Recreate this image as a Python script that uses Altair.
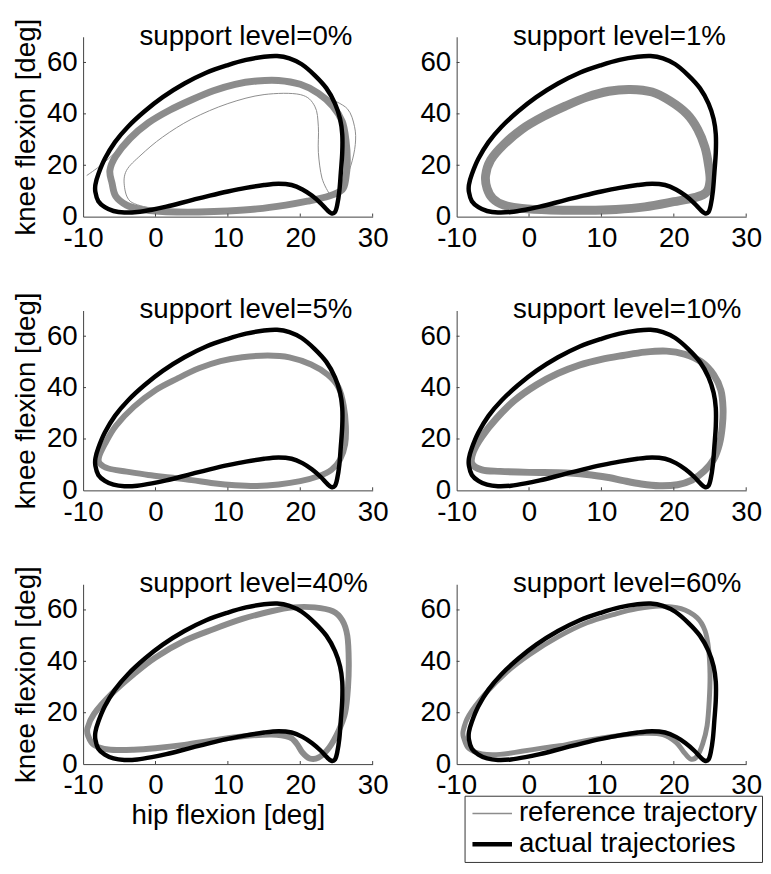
import altair as alt
import pandas as pd

# ---------------- data ----------------
PANEL_TITLES = ["support level=0%", "support level=1%", "support level=5%",
                "support level=10%", "support level=40%", "support level=60%"]
HIP_TICKS = [-10, 0, 10, 20, 30]
KNEE_TICKS = [0, 20, 40, 60]
SERIES = ["reference trajectory", "actual trajectories"]

# actual trajectory (same in every panel), closed loop
ACTUAL_HIP = [-8.3, -7.9, -7.0, -5.8, -4.3, -2.5, -0.5, 1.5, 3.5, 5.5, 7.5, 10.0, 12.5, 15.0,
              17.0, 18.8, 20.3, 21.6, 22.8, 23.7, 24.3, 24.8, 25.1, 25.4, 25.6, 25.8, 25.8,
              25.5, 24.8, 23.6, 22.0, 20.2, 18.5, 16.8, 15.0, 12.5, 10.0, 7.0, 4.0, 1.0,
              -1.5, -3.8, -5.6, -7.0, -7.9, -8.3]
ACTUAL_KNEE = [9.5, 6.0, 3.7, 2.2, 1.6, 1.8, 2.7, 3.9, 5.3, 6.8, 8.2, 9.8, 11.2, 12.3,
               12.8, 12.3, 10.6, 8.2, 5.3, 2.6, 1.3, 1.8, 4.5, 10.0, 17.0, 25.0, 32.0,
               38.0, 44.0, 50.0, 55.0, 59.3, 61.6, 62.5, 62.2, 61.0, 59.0, 56.0, 51.8, 46.5,
               41.0, 35.0, 29.0, 22.5, 16.5, 12.5]

# reference trajectories: centre of the grey band per panel (closed loops)
REF0_HIP = [-5.5, -4.0, -2.0, 0.0, 3.0, 6.0, 10.0, 14.0, 18.0, 21.0, 24.0, 25.8, 26.3, 26.5,
            26.3, 25.8, 24.5, 22.5, 20.0, 17.0, 14.0, 11.0, 8.0, 5.0, 2.0, -1.0, -3.5, -5.5,
            -6.3, -6.0]
REF0_KNEE = [8.0, 4.5, 2.8, 2.2, 1.8, 1.8, 2.2, 3.0, 4.5, 6.0, 8.0, 10.5, 15.0, 22.0,
             30.0, 37.0, 43.0, 48.0, 51.5, 53.0, 52.8, 51.5, 49.0, 45.5, 41.5, 36.5, 30.5, 23.5,
             18.0, 13.0]
REF1_HIP = [-5.0, -3.5, -1.0, 3.0, 8.0, 12.0, 16.0, 20.0, 23.0, 24.5, 25.0, 24.8, 24.3, 23.3,
            21.8, 19.5, 17.0, 14.0, 11.0, 8.0, 5.0, 2.0, -1.0, -3.5, -5.3, -6.0, -5.8]
REF1_KNEE = [7.0, 4.5, 3.2, 2.6, 2.5, 2.8, 3.8, 5.8, 7.5, 9.5, 14.0, 20.0, 27.0, 34.0,
             40.0, 45.0, 48.5, 49.5, 48.8, 46.5, 43.0, 39.0, 34.0, 28.0, 22.0, 16.0, 11.0]
REF5_HIP = [-7.7, -6.5, -4.0, -1.0, 2.0, 5.0, 8.0, 11.0, 14.0, 17.0, 20.0, 22.5, 24.3, 25.5,
            26.2, 26.3, 26.0, 25.3, 23.8, 21.5, 18.5, 15.5, 12.0, 9.0, 6.0, 3.0, 0.0, -3.0,
            -5.5, -7.0, -7.8]
REF5_KNEE = [10.5, 8.5, 7.3, 6.0, 5.0, 4.0, 2.8, 2.0, 1.7, 2.3, 3.6, 5.5, 8.0, 12.0,
             18.0, 25.0, 33.0, 40.0, 45.0, 49.0, 51.8, 52.5, 51.8, 50.3, 47.5, 43.5, 39.0, 32.5,
             25.0, 18.0, 13.0]
REF10_HIP = [-7.9, -6.5, -4.0, 0.0, 4.0, 8.0, 11.0, 13.0, 15.5, 18.0, 20.5, 22.5, 24.2, 25.5,
             26.3, 26.7, 26.8, 26.5, 25.5, 23.8, 21.5, 19.0, 16.0, 13.0, 10.0, 7.0, 4.0, 1.0,
             -2.0, -4.5, -6.5, -7.7]
REF10_KNEE = [10.5, 8.0, 7.4, 7.0, 6.9, 6.2, 5.0, 3.8, 2.5, 1.8, 2.2, 4.0, 7.5, 12.0,
              18.0, 25.0, 32.0, 39.0, 45.0, 50.0, 53.0, 54.2, 53.8, 52.5, 51.0, 48.8, 45.5, 41.0,
              35.0, 28.0, 21.0, 15.0]
REF40_HIP = [-9.3, -8.5, -6.5, -3.0, 0.0, 4.0, 8.0, 12.0, 16.0, 18.5, 19.5, 20.3, 21.3, 22.5,
             24.0, 25.3, 26.2, 26.6, 26.7, 26.5, 25.8, 24.5, 22.0, 19.0, 16.0, 12.0, 8.0, 4.0,
             0.0, -3.0, -6.0, -8.5, -9.4]
REF40_KNEE = [11.0, 7.5, 5.7, 5.6, 6.2, 7.5, 9.2, 10.8, 11.5, 10.5, 8.0, 4.5, 2.2, 2.5,
              6.5, 13.0, 20.0, 30.0, 40.0, 50.0, 56.0, 59.5, 61.0, 61.0, 59.5, 56.5, 52.5, 48.0,
              41.5, 35.0, 27.5, 19.5, 14.0]
REF60_HIP = [-9.0, -8.3, -6.5, -4.0, -1.0, 2.0, 5.0, 8.0, 12.0, 16.0, 18.5, 20.3, 21.3, 22.3,
             23.2, 24.0, 24.6, 24.9, 25.0, 24.8, 24.3, 23.2, 21.0, 18.0, 15.0, 12.0, 8.0, 4.0,
             0.0, -3.0, -6.0, -8.3, -9.1]
REF60_KNEE = [10.0, 6.0, 4.0, 3.8, 5.0, 6.3, 7.5, 9.2, 11.0, 12.0, 11.5, 8.5, 5.0, 2.0,
              3.0, 8.0, 15.0, 25.0, 35.0, 45.0, 52.0, 57.0, 60.5, 61.5, 60.5, 58.5, 55.0, 49.5,
              42.5, 36.0, 27.5, 19.0, 13.0]

# stray reference cycles visible at support level 0%
STRAY_A_HIP = [-9.5, -8.0, -6.5, -5.0, -3.5]
STRAY_A_KNEE = [16.0, 19.0, 22.5, 26.5, 30.5]
STRAY_B_HIP = [-1.0, -3.5, -4.3, -4.0, -2.0, 1.0, 5.0, 10.0, 15.0, 20.0, 22.0, 22.5, 22.5, 23.0, 24.0]
STRAY_B_KNEE = [3.5, 6.0, 12.0, 18.0, 24.0, 31.0, 38.0, 44.0, 47.5, 47.5, 43.0, 35.0, 25.0, 15.0, 9.0]
STRAY_C_HIP = [24.0, 26.5, 27.5, 27.6, 27.0, 26.0]
STRAY_C_KNEE = [46.0, 42.0, 35.0, 28.0, 20.0, 13.0]

REF_LOOPS = [(REF0_HIP, REF0_KNEE), (REF1_HIP, REF1_KNEE), (REF5_HIP, REF5_KNEE),
             (REF10_HIP, REF10_KNEE), (REF40_HIP, REF40_KNEE), (REF60_HIP, REF60_KNEE)]
STRAYS = {0: [(STRAY_A_HIP, STRAY_A_KNEE), (STRAY_B_HIP, STRAY_B_KNEE), (STRAY_C_HIP, STRAY_C_KNEE)]}

# ---------------- styles ----------------
FONT = "Liberation Sans"
FS = 28
GREY = "#8c8c8c"
BAND_WIDTH = [7, 9, 6, 7, 6, 5]
W, H = 293, 182


def frame(hips, knees, kind, cid):
    return pd.DataFrame({"hip": hips, "knee": knees, "i": list(range(len(hips))),
                         "kind": kind, "cid": cid})


LEGEND = alt.Legend(orient="none", legendX=386, legendY=768, title=None,
                    labelFont=FONT, labelFontSize=FS, labelColor="black",
                    symbolType="M-2,0L2,0", symbolSize=400, symbolOffset=10,
                    labelOffset=13, rowPadding=3, padding=4,
                    strokeColor="#333333", fillColor="white",
                    symbolFillColor="transparent", labelLimit=400)
color_enc = alt.Color("kind:N", scale=alt.Scale(domain=SERIES, range=[GREY, "#000000"]),
                      legend=LEGEND)
sw_enc = alt.StrokeWidth("kind:N", scale=alt.Scale(domain=SERIES, range=[1.5, 4.5]),
                         legend=LEGEND)


def panel(k):
    show_y_title = k % 2 == 0
    show_x_title = k == 4
    x_enc = alt.X("hip:Q", scale=alt.Scale(domain=[-10, 30], nice=False, zero=False),
                  axis=alt.Axis(values=HIP_TICKS, grid=False, ticks=False, tickSize=0,
                                labelFont=FONT, labelFontSize=FS, labelColor="black",
                                labelPadding=8, labelFlush=False, labelOverlap=False,
                                labelExpr="'' + datum.value",
                                domainColor="#404040", domainWidth=1,
                                title="hip flexion [deg]" if show_x_title else None,
                                titleFont=FONT, titleFontSize=FS, titleFontWeight="normal",
                                titleColor="black", titlePadding=2))
    y_enc = alt.Y("knee:Q", scale=alt.Scale(domain=[0, 70], nice=False, zero=False),
                  axis=alt.Axis(values=KNEE_TICKS, grid=False, ticks=False, tickSize=0,
                                labelFont=FONT, labelFontSize=FS, labelColor="black",
                                labelPadding=6, labelFlush=False, labelOverlap=False,
                                domainColor="#404040", domainWidth=1,
                                title="knee flexion [deg]" if show_y_title else None,
                                titleFont=FONT, titleFontSize=FS, titleFontWeight="normal",
                                titleColor="black", titlePadding=6))

    rh, rk = REF_LOOPS[k]
    ref_df = frame(rh, rk, SERIES[0], "ref")
    act_df = frame(ACTUAL_HIP, ACTUAL_KNEE, SERIES[1], "act")

    band = alt.Chart(ref_df).mark_line(interpolate="cardinal-closed", color=GREY,
                                       strokeWidth=BAND_WIDTH[k]).encode(
        x=x_enc, y=y_enc, order="i:Q")
    ref_thin = alt.Chart(ref_df).mark_line(interpolate="cardinal-closed").encode(
        x="hip:Q", y="knee:Q", order="i:Q", color=color_enc, strokeWidth=sw_enc)
    layers = [band, ref_thin]
    if k in STRAYS:
        sdf = pd.concat([frame(h, kk, SERIES[0], f"s{j}") for j, (h, kk) in enumerate(STRAYS[k])])
        layers.append(alt.Chart(sdf).mark_line(interpolate="cardinal", strokeWidth=1).encode(
            x="hip:Q", y="knee:Q", order="i:Q", detail="cid:N", color=color_enc))
    layers.append(alt.Chart(act_df).mark_line(interpolate="cardinal-closed").encode(
        x="hip:Q", y="knee:Q", order="i:Q", color=color_enc, strokeWidth=sw_enc))

    # inward tick marks (MATLAB style)
    xt = pd.DataFrame({"hip": HIP_TICKS[1:]})
    yt = pd.DataFrame({"knee": KNEE_TICKS[1:]})
    layers.append(alt.Chart(xt).mark_rule(color="#404040", strokeWidth=1).encode(
        x="hip:Q", y=alt.datum(0), y2=alt.datum(1.2)))
    layers.append(alt.Chart(yt).mark_rule(color="#404040", strokeWidth=1).encode(
        y="knee:Q", x=alt.datum(-10), x2=alt.datum(-9.6)))

    # panel caption
    tdf = pd.DataFrame({"t": [PANEL_TITLES[k]]})
    layers.append(alt.Chart(tdf).mark_text(align="left", baseline="alphabetic", font=FONT,
                                           fontSize=FS, color="black").encode(
        text="t:N", x=alt.value(57), y=alt.value(8)))

    return alt.layer(*layers).properties(width=W, height=H)


chart = alt.concat(*[panel(k) for k in range(6)], columns=2,
                   spacing={"row": 95, "column": 85}, bounds="flush").configure_view(
    stroke=None).properties(background="white",
                            padding={"left": 4, "top": 5, "right": 0, "bottom": 0})

chart.save("out.html", embed_options={"renderer": "svg", "actions": False})
